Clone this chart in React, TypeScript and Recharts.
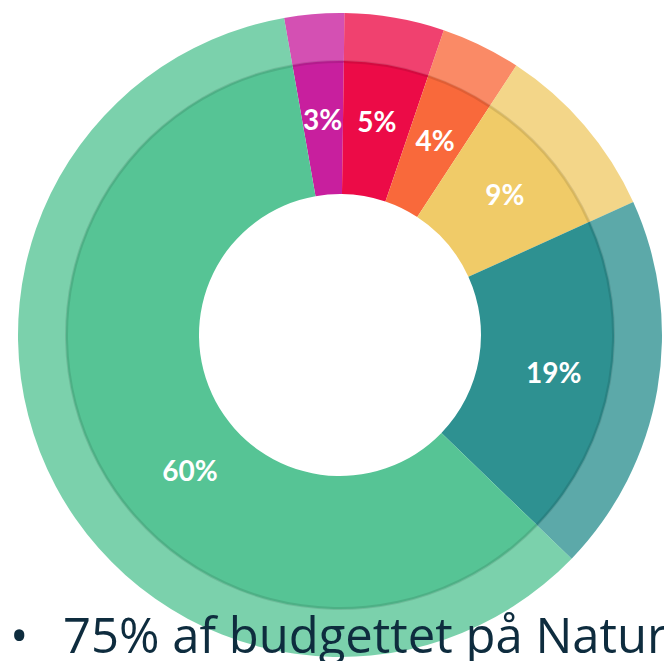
import { PieChart, Pie, Cell } from 'recharts';

// Budget shares, clockwise from the top
const segments = ['Segment A', 'Segment B', 'Segment C', 'Segment D', 'Segment E', 'Segment F'];
const shares = [3, 5, 4, 9, 19, 60];
const sliceColors = ['#C81F9E', '#EC0B47', '#F9693B', '#F0CB68', '#2E9191', '#56C495'];

const chartData = segments.map((name, i) => ({ name, value: shares[i] }));

const RADIAN = Math.PI / 180;

const renderLabel = (props: any) => {
  const { cx, cy, midAngle, percent, value } = props;
  // the big slice has its label pushed a bit toward the bottom
  const big = percent > 0.5;
  const angle = big ? midAngle + 14 : midAngle;
  const r = big ? 202 : 217;
  const x = cx + r * Math.cos(-angle * RADIAN);
  const y = cy + r * Math.sin(-angle * RADIAN);
  return (
    <text
      x={x}
      y={y}
      fill="#ffffff"
      textAnchor="middle"
      dominantBaseline="central"
      style={{ fontFamily: 'Lato, "Open Sans", sans-serif', fontWeight: 700, fontSize: 28 }}
    >
      {value}%
    </text>
  );
};

export default function App() {
  return (
    <div style={{ position: 'absolute', left: 0, top: 0, width: 664, height: 661, overflow: 'hidden', background: '#fff' }}>
      <PieChart width={664} height={661} margin={{ top: 0, right: 0, bottom: 0, left: 0 }}>
        {/* light outer rim */}
        <Pie
          data={chartData}
          dataKey="value"
          cx={340}
          cy={335}
          innerRadius={273}
          outerRadius={322}
          startAngle={100}
          endAngle={-260}
          stroke="none"
          isAnimationActive={false}
        >
          {chartData.map((d, i) => (
            <Cell key={d.name} fill={sliceColors[i]} fillOpacity={0.78} />
          ))}
        </Pie>
        {/* main ring */}
        <Pie
          data={chartData}
          dataKey="value"
          cx={340}
          cy={335}
          innerRadius={141}
          outerRadius={274}
          startAngle={100}
          endAngle={-260}
          stroke="none"
          label={renderLabel}
          labelLine={false}
          isAnimationActive={false}
        >
          {chartData.map((d, i) => (
            <Cell key={d.name} fill={sliceColors[i]} />
          ))}
        </Pie>
        {/* thin shadow line between the rings */}
        <Pie
          data={chartData}
          dataKey="value"
          cx={340}
          cy={335}
          innerRadius={272}
          outerRadius={275}
          startAngle={100}
          endAngle={-260}
          stroke="none"
          fill="#000000"
          fillOpacity={0.1}
          isAnimationActive={false}
        />
      </PieChart>
      <div
        style={{
          position: 'absolute',
          left: 10,
          top: 599,
          fontFamily: '"Open Sans", "Noto Sans", sans-serif',
          fontSize: 49,
          color: '#0E2C3E',
          whiteSpace: 'nowrap',
          lineHeight: '70px',
        }}
      >
        <span style={{ display: 'inline-block', width: 53 }}>•</span>
        75% af budgettet på Naturpleje
      </div>
    </div>
  );
}
